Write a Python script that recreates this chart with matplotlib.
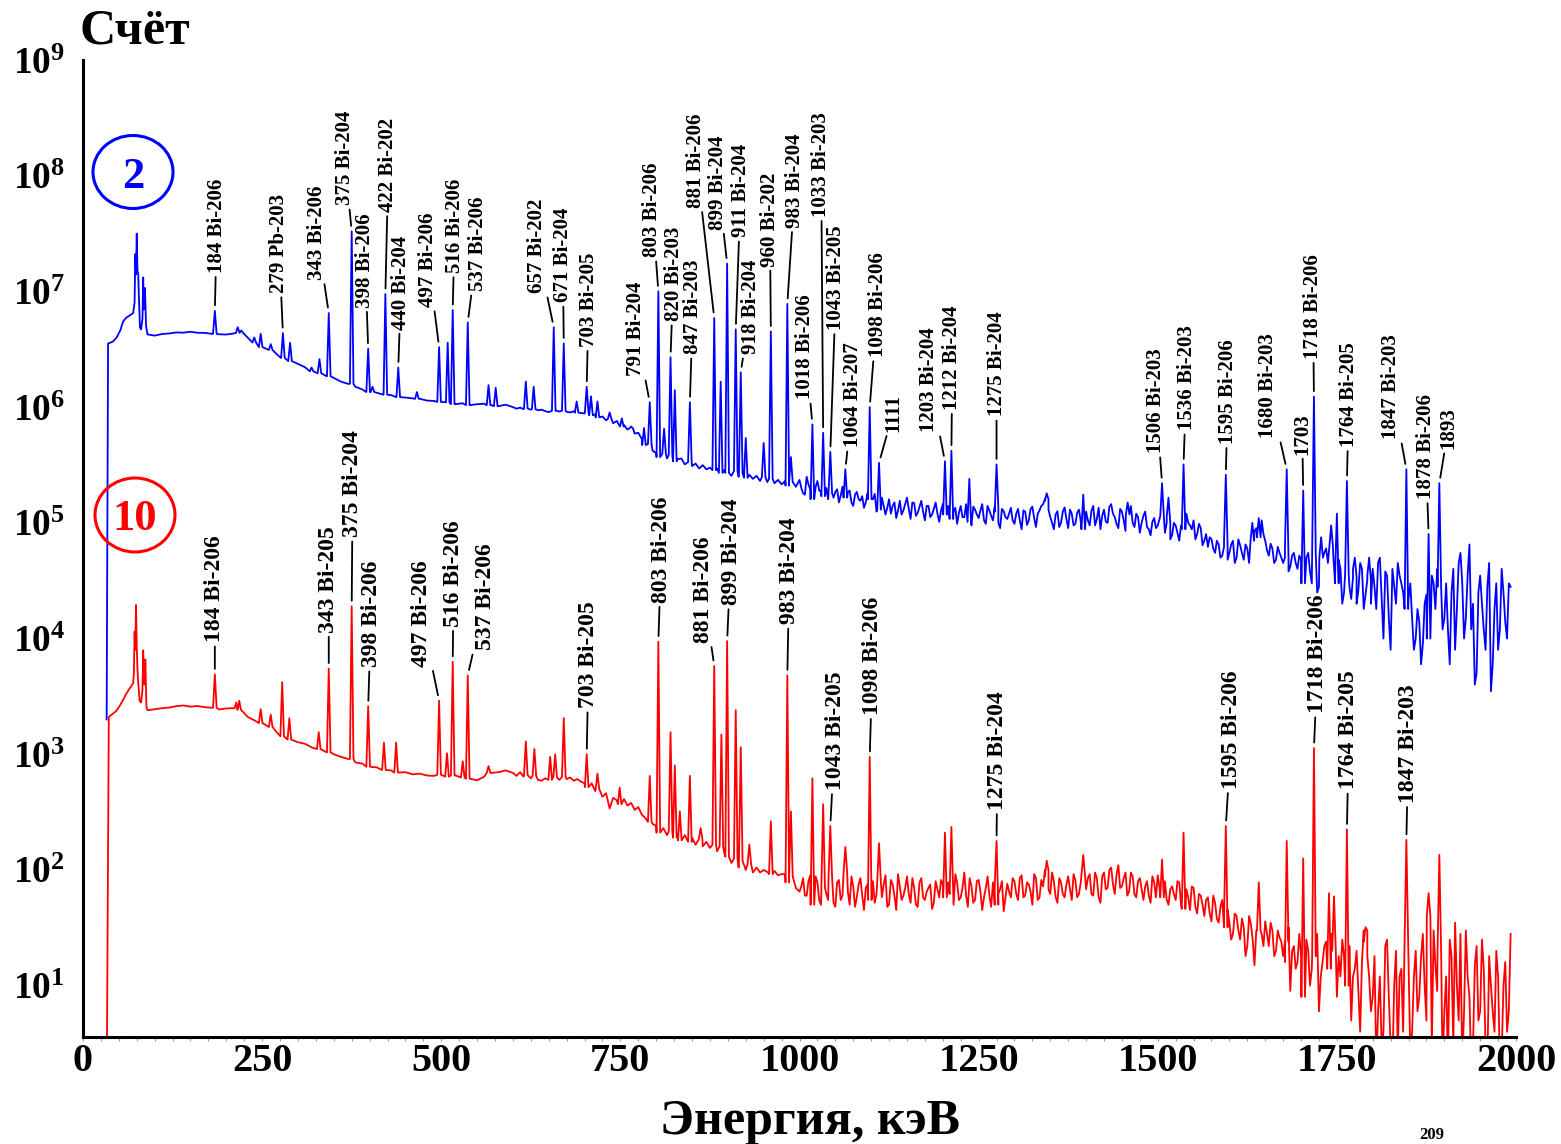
import numpy as np
import matplotlib
matplotlib.use('Agg')
import matplotlib.pyplot as plt
from matplotlib.patches import Ellipse
from matplotlib.ticker import MultipleLocator, NullLocator

plt.rcParams['font.family'] = ['Liberation Serif', 'DejaVu Serif']
plt.rcParams['font.weight'] = 'bold'
plt.rcParams['mathtext.fontset'] = 'custom'
plt.rcParams['mathtext.rm'] = 'Liberation Serif'
plt.rcParams['mathtext.bf'] = 'Liberation Serif:bold'

### Low-energy part: threshold edge and Bi K X-rays (keV, counts)
blue_front_E = [33, 35, 38, 42, 47, 52, 56, 60, 65, 70, 72, 73, 74, 75, 76, 77,
                78, 79.5, 81, 83, 84, 85, 86.5, 88]
blue_front = [2.0e3, 3.55e6, 3.6e6, 3.7e6, 4.0e6, 4.6e6, 5.5e6, 5.9e6, 6.2e6,
              6.5e6, 8.0e6, 2.1e7, 1.4e7, 3.16e7, 1.5e7, 1.45e7, 9.0e6, 4.9e6,
              4.7e6, 5.8e6, 1.32e7, 7.0e6, 1.07e7, 5.0e6]

red_front_E = [33, 36, 40, 46, 51, 56, 60, 65, 70, 71, 72, 73, 74, 75, 76, 77,
               79, 81, 83, 84, 85, 86, 87, 88.5]
red_front = [1.0, 2.1e3, 2.2e3, 2.35e3, 2.6e3, 2.95e3, 3.3e3, 3.7e3, 4.1e3,
             5.0e3, 1.15e4, 8.0e3, 1.95e4, 8.5e3, 5.5e3, 4.2e3, 2.9e3, 2.8e3,
             3.6e3, 7.9e3, 4.5e3, 4.0e3, 6.6e3, 2.6e3]

### Continuum: every 10 keV up to 590 keV, every 5 keV above,
### plus in-between readings above 1000 keV where the noise is heavy
energy_lo = np.arange(90, 600, 10)
energy_hi = np.arange(600, 1995, 5)
energy_mid = np.arange(1002.5, 1995, 5)

# spectrum 2, thousands of counts
blue_lo_k = [4250, 4150, 4280, 4330, 4420, 4400, 4480, 4390, 4380, 4300,
             4260, 4240, 4330, 4380, 3980, 3620, 3300, 3120, 2880, 2660,
             2500, 2360, 2210, 2040, 1960, 1850, 1790, 1660, 1590, 1500,
             1420, 1350, 1330, 1280, 1270, 1220, 1210, 1190, 1180, 1140,
             1130, 1110, 1100, 1060, 1080, 1040, 1060, 1070, 1040, 1020, 1050]

blue_hi_k = [
    1000, 970, 990, 960, 975, 950, 960, 940, 950, 925, 905, 930, 935, 915, 930, 910, 900, 920, 895, 890,
    880, 900, 850, 870, 815, 830, 770, 790, 725, 760, 680, 700, 640, 655, 590, 600, 530, 470, 480, 420,
    400, 370, 395, 360, 385, 340, 355, 360, 320, 335, 310, 325, 295, 315, 290, 300, 285, 295, 270, 285,
    270, 255, 280, 250, 270, 245, 260, 240, 255, 230, 248, 225, 240, 220, 235, 215, 230, 210, 225, 205,
    235, 180, 250, 195, 170, 230, 185, 220, 160, 210, 185, 150, 205, 165, 190, 140, 185, 155, 135, 180,
    145, 178, 130, 165, 118, 160, 140, 110, 155, 128, 165, 108, 148, 122, 155, 105, 140, 118, 150, 102,
    145, 108, 155, 125, 98, 140, 112, 150, 95, 130, 110, 145, 98, 128, 105, 138, 90, 126, 108, 135,
    98, 132, 88, 125, 105, 138, 92, 128, 145, 160, 112, 88, 126, 100, 136, 90, 120, 98, 130, 88,
    125, 95, 140, 108, 88, 130, 100, 145, 112, 90, 125, 85, 100, 100, 120, 82, 115, 92, 78, 110,
    95, 115, 82, 100, 78, 95, 70, 88, 120, 95, 105, 80, 90, 70, 62, 72, 55, 65, 52, 62,
    55, 70, 50, 64, 48, 60, 52, 85, 75, 105, 70, 52, 60, 48, 55, 45, 50, 42, 55, 40,
    48, 35, 55, 30, 42, 28, 45, 60, 38, 52, 30, 40, 25, 36, 22, 34, 26, 40, 24, 32,
    40, 18, 50, 10, 35, 8, 28, 45, 30, 40, 22, 15, 10, 14, 9, 24, 12, 30, 40, 22,
    15, 12, 25, 8, 45, 30, 15, 65, 20, 5, 35, 12, 28, 3.5, 18, 8, 40, 14, 30]

blue_mid_k = [
    200, 175, 215, 160, 205, 190, 170, 200, 180, 165, 195, 172, 158, 185, 150, 175, 160, 170, 150, 160,
    160, 125, 150, 140, 135, 120, 150, 128, 118, 145, 132, 150, 115, 138, 125, 140, 112, 132, 120, 128,
    118, 140, 108, 135, 122, 112, 145, 102, 138, 118, 128, 105, 140, 115, 125, 100, 132, 112, 120, 105,
    120, 105, 128, 96, 132, 110, 120, 140, 155, 130, 100, 118, 92, 125, 108, 130, 95, 122, 104, 118,
    105, 128, 95, 135, 115, 102, 138, 120, 98, 132, 105, 118, 140, 92, 112, 100, 125, 88, 102, 90,
    108, 90, 112, 72, 100, 82, 95, 110, 100, 88, 72, 98, 64, 80, 75, 60, 70, 50, 70, 48,
    65, 45, 72, 55, 65, 45, 70, 90, 95, 80, 58, 66, 45, 62, 50, 60, 38, 52, 45, 52,
    30, 50, 38, 55, 25, 50, 55, 45, 62, 35, 48, 20, 45, 28, 40, 20, 45, 18, 35, 20,
    28, 45, 22, 38, 15, 40, 20, 35, 25, 18, 30, 8, 18, 6, 20, 10, 35, 18, 28, 12,
    30, 6, 40, 18, 55, 10, 35, 12, 4, 25, 20, 8, 45, 6, 30, 12, 25, 10, 28]

# spectrum 10, counts
red_lo = [2400, 2450, 2500, 2530, 2600, 2640, 2580, 2610, 2550, 2520,
          2440, 2490, 2500, 2420, 2100, 1950, 1860, 1720, 1560, 1430,
          1340, 1270, 1230, 1140, 1110, 1040, 1000, 950, 910, 850,
          830, 780, 770, 730, 725, 695, 700, 670, 680, 655,
          650, 665, 640, 655, 630, 615, 595, 640, 690, 700, 725]

red_hi = [
    690, 650, 700, 640, 660, 620, 650, 600, 590, 620, 600, 640, 630, 600, 640, 610, 630, 590, 610, 580,
    560, 520, 560, 480, 500, 430, 460, 340, 420, 400, 370, 410, 360, 380, 330, 350, 300, 280, 260, 250,
    240, 210, 230, 200, 215, 190, 205, 180, 200, 175, 190, 165, 185, 160, 175, 155, 165, 145, 160, 140,
    130, 115, 125, 105, 120, 100, 112, 95, 105, 95, 100, 96, 92, 98, 90, 92, 92, 78, 88, 70,
    65, 85, 60, 90, 58, 78, 50, 80, 55, 75, 48, 82, 60, 95, 50, 72, 58, 85, 45, 75,
    68, 52, 80, 58, 90, 50, 75, 45, 72, 60, 88, 52, 70, 48, 85, 55, 70, 46, 80, 58,
    75, 52, 85, 50, 78, 58, 95, 48, 72, 55, 82, 45, 70, 60, 78, 50, 68, 44, 76, 58,
    80, 55, 90, 60, 75, 50, 85, 58, 72, 100, 62, 80, 52, 78, 58, 88, 55, 82, 62, 90,
    68, 92, 60, 85, 52, 95, 70, 105, 62, 110, 72, 95, 65, 88, 58, 85, 55, 80, 52, 78,
    90, 58, 80, 50, 72, 55, 78, 46, 68, 45, 70, 42, 60, 40, 58, 36, 52, 35, 55, 32,
    35, 28, 40, 25, 32, 22, 34, 15, 30, 28, 36, 22, 30, 20, 26, 18, 24, 9, 22, 16,
    18, 12, 20, 14, 22, 6, 16, 24, 14, 20, 8, 12, 18, 10, 5, 14, 9, 16, 30, 12,
    8, 2, 12, 4, 25, 3, 10, 2.5, 14, 6, 16, 4, 20, 8, 28, 5, 12, 30, 9, 3,
    6, 2, 18, 35, 5, 2, 30, 8, 3, 22, 6, 14, 2, 10, 4, 12, 2.5, 16, 6]

red_mid = [
    72, 60, 80, 50, 88, 55, 70, 62, 85, 52, 78, 55, 72, 65, 88, 48, 75, 60, 70, 55,
    80, 62, 55, 75, 48, 82, 60, 92, 55, 70, 62, 85, 50, 78, 58, 65, 75, 52, 68, 82,
    58, 78, 62, 92, 55, 70, 60, 85, 52, 80, 65, 58, 88, 48, 75, 62, 80, 58, 65, 85,
    62, 85, 58, 78, 65, 92, 55, 82, 88, 68, 95, 58, 85, 62, 75, 68, 92, 58, 78, 70,
    85, 62, 95, 58, 88, 68, 100, 75, 92, 70, 85, 60, 95, 62, 80, 68, 72, 60, 88, 58,
    70, 85, 55, 68, 62, 80, 50, 65, 58, 72, 48, 62, 50, 55, 42, 60, 38, 48, 40, 45,
    25, 42, 30, 38, 18, 40, 25, 30, 45, 22, 28, 35, 18, 30, 24, 16, 32, 20, 14, 28,
    8, 25, 10, 18, 28, 12, 22, 10, 28, 12, 18, 25, 6, 22, 12, 20, 4, 24, 18, 6,
    18, 6, 3, 22, 8, 2, 20, 12, 4, 24, 2.5, 12, 6, 18, 10, 40, 3, 15, 20, 2,
    12, 25, 3, 10, 28, 6, 12, 2, 15, 5, 25, 3, 18, 6, 20, 2, 10, 4, 28]

### Photopeaks: energy (keV) and apex height
blue_peak_E = [184, 216, 221, 239, 248, 262, 279, 289, 319, 330, 343, 375, 398,
               404, 422, 440, 466, 497, 509, 516, 537, 566, 576, 618, 629, 657,
               671, 689, 703, 709, 718, 735, 752, 765, 783, 791, 803, 811, 820,
               826, 847, 881, 890, 899, 911, 918, 925, 950, 960, 983, 988, 1018,
               1033, 1043, 1064, 1098, 1111, 1203, 1212, 1237, 1275, 1345, 1396,
               1458, 1506, 1515, 1536, 1595, 1632, 1641, 1680, 1703, 1718, 1728,
               1742, 1750, 1764, 1775, 1795, 1847, 1878, 1893]
blue_peak_k = [6800, 4900, 4600, 4000, 4300, 3500, 4360, 3600, 2200, 2600, 6500,
               33000, 3200, 1500, 9500, 2200, 1350, 3300, 3600, 6900, 5400, 1550,
               1470, 1660, 1500, 4900, 3550, 1120, 1500, 1240, 1120, 900, 800,
               680, 660, 1100, 10000, 650, 2700, 1400, 1100, 5900, 1660, 17400,
               4700, 2000, 540, 490, 4500, 7800, 370, 710, 600, 410, 290, 1000,
               330, 340, 420, 240, 320, 180, 175, 150, 220, 165, 320, 260, 100,
               110, 290, 190, 1230, 75, 95, 120, 230, 50, 50, 290, 80, 220]

red_peak_E = [184, 214, 218, 248, 262, 278, 288, 329, 343, 375, 398, 420, 437,
              497, 508, 516, 530, 537, 566, 618, 630, 652, 659, 671, 703, 718,
              749, 791, 803, 820, 826, 833, 847, 862, 881, 891, 899, 911, 918,
              930, 960, 983, 988, 1018, 1033, 1043, 1064, 1098, 1111, 1203, 1212,
              1275, 1345, 1396, 1506, 1536, 1595, 1641, 1680, 1703, 1718, 1739,
              1746, 1764, 1790, 1847, 1878, 1893]
red_peak = [4900, 2800, 2900, 2450, 2200, 4200, 2050, 1550, 5500, 19000, 2600,
            1260, 1260, 2900, 1020, 6300, 870, 4800, 790, 1290, 1110, 950, 1000,
            2050, 1000, 680, 515, 650, 9400, 1550, 800, 320, 650, 230, 5800,
            1480, 9500, 2400, 1150, 166, 263, 4800, 320, 620, 370, 240, 158, 950,
            170, 210, 235, 178, 120, 135, 123, 210, 240, 78, 178, 126, 1130, 63,
            59, 224, 32, 182, 63, 135]

### Identified lines
blue_labels = ["184 Bi-206", "279 Pb-203", "343 Bi-206", "375 Bi-204",
               "398 Bi-206", "422 Bi-202", "440 Bi-204", "497 Bi-206",
               "516 Bi-206", "537 Bi-206", "657 Bi-202", "671 Bi-204",
               "703 Bi-205", "791 Bi-204", "803 Bi-206", "820 Bi-203",
               "847 Bi-203", "881 Bi-206", "899 Bi-204", "911 Bi-204",
               "918 Bi-204", "960 Bi-202", "983 Bi-204", "1018 Bi-206",
               "1033 Bi-203", "1043 Bi-205", "1064 Bi-207", "1098 Bi-206",
               "1111", "1203 Bi-204", "1212 Bi-204", "1275 Bi-204",
               "1506 Bi-203", "1536 Bi-203", "1595 Bi-206", "1680 Bi-203",
               "1703", "1718 Bi-206", "1764 Bi-205", "1847 Bi-203",
               "1878 Bi-206", "1893"]
red_labels = ["184 Bi-206", "343 Bi-205", "375 Bi-204", "398 Bi-206",
              "497 Bi-206", "516 Bi-206", "537 Bi-206", "703 Bi-205",
              "803 Bi-206", "881 Bi-206", "899 Bi-204", "983 Bi-204",
              "1043 Bi-205", "1098 Bi-206", "1275 Bi-204", "1595 Bi-206",
              "1718 Bi-206", "1764 Bi-205", "1847 Bi-203"]

# where each label sits relative to its peak top, pixels
blue_label_offsets = [(2, 38), (-4, 40), (-12, 33), (-7, 26), (-3, 41), (3, 82),
                      (3, 38), (-11, 40), (2, 37), (10, 31), (-17, 34), (-1, 41),
                      (2, 40), (-14, 26), (-6, 34), (3, 36), (3, 48), (-18, 110),
                      (-9, 34), (5, 92), (10, 18), (-1, 65), (8, 76), (-7, 25),
                      (-2, 216), (6, 122), (8, 22), (8, 50), (14, 31), (-16, 29),
                      (1, 41), (0, 48), (-6, 30), (3, 34), (2, 31), (-19, 31),
                      (-1, 36), (-1, 38), (2, 34), (-15, 30), (-3, 35), (9, 34)]
red_label_offsets = [(0, 32), (0, 36), (1, 69), (3, 39), (-18, 34), (1, 35),
                     (18, 25), (2, 46), (3, 39), (-11, 23), (4, 36), (2, 51),
                     (5, 36), (3, 42), (1, 31), (6, 37), (4, 35), (2, 40), (2, 37)]


def build_spectrum(front_E, front_c, cont_E, cont_c, peak_E, peak_c, hw=2.5):
    cont_E = np.asarray(cont_E, dtype=float)
    cont_c = np.asarray(cont_c, dtype=float)
    assert len(cont_E) == len(cont_c)
    keep = np.ones(len(cont_E), dtype=bool)
    xs, ys = list(front_E), list(front_c)
    for e, c in zip(peak_E, peak_c):
        base = cont_c[np.abs(cont_E - e).argmin()]
        keep &= np.abs(cont_E - e) >= hw
        xs += [e - hw, e, e + hw]
        ys += [base, c, base]
    xs += list(cont_E[keep])
    ys += list(cont_c[keep])
    order = np.argsort(xs, kind='stable')
    return np.array(xs)[order], np.array(ys)[order]


cont_E = np.concatenate([energy_lo, energy_hi, energy_mid])
blue_E, blue_c = build_spectrum(blue_front_E, blue_front, cont_E,
                                np.concatenate([blue_lo_k, blue_hi_k, blue_mid_k]) * 1e3,
                                blue_peak_E, np.array(blue_peak_k) * 1e3)
red_E, red_c = build_spectrum(red_front_E, red_front, cont_E,
                              np.concatenate([red_lo, red_hi, red_mid]),
                              red_peak_E, red_peak)

W, H = 1561, 1144
fig = plt.figure(figsize=(W / 100, H / 100), dpi=100)
ax = fig.add_axes([83 / W, 107 / H, 1433 / W, 977 / H])

ax.plot(red_E, red_c, color='#ff0000', lw=1.3)
ax.plot(blue_E, blue_c, color='#0000ff', lw=1.3)

ax.set_yscale('log')
ax.set_xlim(0, 2000)
ax.set_ylim(3.6, 1e9)

for s in ['top', 'right']:
    ax.spines[s].set_visible(False)
for s in ['left', 'bottom']:
    ax.spines[s].set_linewidth(2.2)

ax.set_xticks(np.arange(0, 2001, 250))
ax.xaxis.set_minor_locator(MultipleLocator(25))
ax.tick_params(axis='x', which='both', direction='out', length=3, width=0.8,
               color='0.6', pad=1.5, labelsize=29)
ax.set_yticks([10.0 ** k for k in range(1, 10)])
ax.set_yticklabels([r'$\mathbf{10^{%d}}$' % k for k in range(1, 10)])
ax.yaxis.set_minor_locator(NullLocator())
ax.tick_params(axis='y', which='both', length=0, pad=13, labelsize=27)


def put_labels(labels, offsets, peak_E, peak_c, size):
    for text, (dx, dy) in zip(labels, offsets):
        e = int(text.split()[0])
        c = peak_c[list(peak_E).index(e)]
        ax.annotate(text, xy=(e, c), xytext=(dx, dy), textcoords='offset pixels',
                    rotation=90, ha='center', va='bottom', fontsize=size,
                    fontweight='bold',
                    arrowprops=dict(arrowstyle='-', color='k', lw=1.3,
                                    shrinkA=1, shrinkB=4))


put_labels(blue_labels, blue_label_offsets, blue_peak_E,
           np.array(blue_peak_k) * 1e3, 15)
put_labels(red_labels, red_label_offsets, red_peak_E, np.array(red_peak), 17)

# spectrum numbers in circles
for (cx, cy, w, h), txt, col in [((133, 172, 80, 73), '2', '#0000ff'),
                                 ((135, 515, 80, 74), '10', '#ff0000')]:
    fig.add_artist(Ellipse((cx / W, 1 - cy / H), w / W, h / H,
                           transform=fig.transFigure, fill=False,
                           edgecolor=col, lw=2.2))
    fig.text(cx / W, 1 - cy / H, txt, color=col, fontsize=32, fontweight='bold',
             ha='center', va='center_baseline')

fig.text(80 / W, 1 - 43 / H, 'Счёт', fontsize=36, fontweight='bold',
         ha='left', va='baseline')
fig.text(810 / W, 1 - 1134 / H, 'Энергия, кэВ', fontsize=36, fontweight='bold',
         ha='center', va='baseline')
fig.text(1432 / W, 1 - 1143 / H, '209', fontsize=12, fontweight='bold',
         ha='center', va='bottom')

fig.savefig('out.png', dpi=100)
